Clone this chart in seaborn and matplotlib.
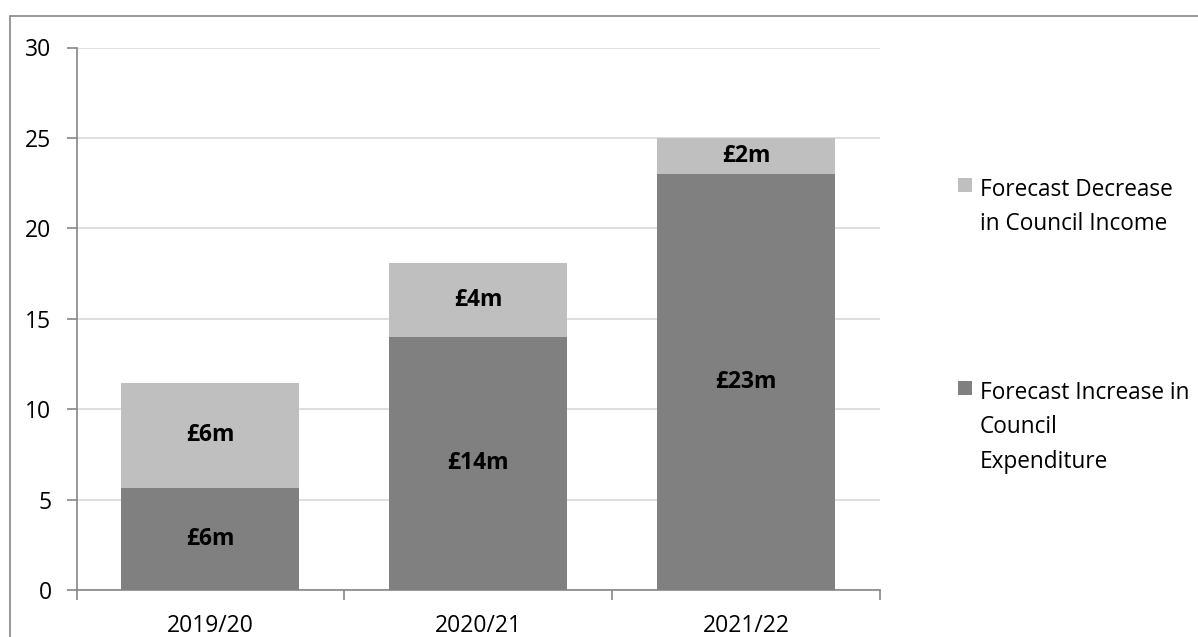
import matplotlib
matplotlib.use("Agg")
import matplotlib.pyplot as plt
import matplotlib.patches as mpatches
import seaborn as sns
import pandas as pd
import numpy as np

years = ["2019/20", "2020/21", "2021/22"]
expenditure = [5.65, 14.0, 23.0]
income = [5.8, 4.1, 2.0]
exp_labels = ["£6m", "£14m", "£23m"]
inc_labels = ["£6m", "£4m", "£2m"]
series_names = ["Forecast Decrease\nin Council Income", "Forecast Increase in\nCouncil\nExpenditure"]
yticks = [0, 5, 10, 15, 20, 25, 30]

dark = "#808080"
light = "#bfbfbf"

sns.set_theme(style="white")
plt.rcParams["font.family"] = ["Open Sans", "DejaVu Sans"]

df = pd.DataFrame({"year": years, "exp": expenditure, "inc": income})
df["total"] = df["exp"] + df["inc"]

fig = plt.figure(figsize=(11.98, 6.37), dpi=100)
ax = fig.add_axes([76.5/1198, 1-590/637, (880-76.5)/1198, (590-47.5)/637])

sns.barplot(data=df, x="year", y="total", color=light, saturation=1, width=0.665, ax=ax, zorder=2)
sns.barplot(data=df, x="year", y="exp", color=dark, saturation=1, width=0.665, ax=ax, zorder=3)
for p in ax.patches:
    p.set_edgecolor("none")
    p.set_linewidth(0)

lab_fs = 16.5
for i in range(len(years)):
    ax.text(i, expenditure[i]/2, exp_labels[i], ha="center", va="center",
            fontsize=lab_fs, fontweight="bold", color="black", zorder=5)
    ax.text(i, expenditure[i] + income[i]/2, inc_labels[i], ha="center", va="center",
            fontsize=lab_fs, fontweight="bold", color="black", zorder=5)

ax.set_ylim(0, 30)
ax.set_xlim(-0.5, 2.5)
ax.set_yticks(yticks)
ax.set_xlabel("")
ax.set_ylabel("")
ax.yaxis.grid(True, color="#d9d9d9", linewidth=1.2, zorder=0)
ax.set_axisbelow(True)
for s in ["top", "right"]:
    ax.spines[s].set_visible(False)
for s in ["left", "bottom"]:
    ax.spines[s].set_color("#868686")
    ax.spines[s].set_linewidth(1.2)

tick_fs = 16.5
ax.tick_params(axis="y", which="major", length=7, width=1.2, color="#868686",
               labelsize=tick_fs, labelcolor="black", direction="out", left=True, pad=11)
ax.set_xticks([-0.5, 0.5, 1.5, 2.5], minor=True)
ax.tick_params(axis="x", which="minor", length=7, width=1.2, color="#868686", direction="out", bottom=True)
ax.tick_params(axis="x", which="major", length=0, labelsize=tick_fs, labelcolor="black", pad=17)

# legend (manual layout: square aligned with the first text line)
leg_y = [185, 388]
leg_colors = [light, dark]
sq = 14
for y, c, name in zip(leg_y, leg_colors, series_names):
    fig.patches.append(mpatches.Rectangle((958/1198, 1-(y+sq/2)/637), sq/1198, sq/637,
                                          transform=fig.transFigure, facecolor=c, edgecolor="none"))
    fig.text(980/1198, 1-(y-7)/637, name, ha="left", va="top", fontsize=16.3,
             color="black", linespacing=1.57)

border = mpatches.Rectangle((10/1198, -0.05), 1.1, 1 - 15.5/637 + 0.05, transform=fig.transFigure,
                            fill=False, edgecolor="#868686", linewidth=1.2)
fig.patches.append(border)

fig.savefig("out.png", dpi=100)
